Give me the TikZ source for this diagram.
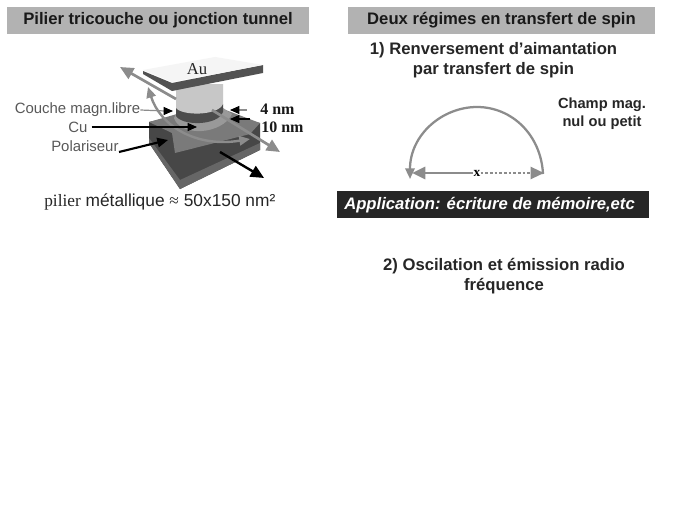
\documentclass[tikz,border=0pt]{standalone}
\usepackage{fontspec}
\setmainfont{Liberation Sans}
\newfontfamily\serifx{Liberation Serif}
\usetikzlibrary{arrows.meta}
\definecolor{bar}{gray}{0.70}
\definecolor{txtg}{gray}{0.35}
\definecolor{arrg}{gray}{0.55}
\tikzset{
 px/.style={x=0.75pt,y=-0.75pt},
 titlebar/.style={fill=bar,draw=none,minimum height=20pt,inner sep=0pt,font=\bfseries\fontsize{12.5}{14}\selectfont,text=black!90},
 head/.style={font=\bfseries\fontsize{12.5}{14.8}\selectfont,align=center,text=black!85,inner sep=0pt},
 lab/.style={font=\fontsize{11.2}{13}\selectfont,text=txtg,inner sep=0pt},
 dim/.style={font=\serifx\bfseries\fontsize{12}{13}\selectfont,text=black!90,inner sep=0pt},
 tipb/.style={-{Triangle[length=7pt,width=6pt]},black,line width=0.8pt},
 tipf/.style={-{Triangle[length=8pt,width=7pt]},black,line width=1.6pt},
 tipg/.style={-{Triangle[length=10pt,width=9pt]},arrg,line width=2pt},
 tipgs/.style={{Triangle[length=8pt,width=7pt]}-{Triangle[length=8pt,width=7pt]},arrg,line width=1.8pt},
}
\begin{document}
\begin{tikzpicture}[px]
\useasboundingbox (0,0) rectangle (680,517);
\fill[white] (0,0) rectangle (680,517);
% title bars
\node[titlebar,minimum width=226.5pt] (t1) at (158,20.5) {Pilier tricouche ou jonction tunnel};
\node[titlebar,minimum width=230pt] (t2) at (501.5,20.5) {Deux régimes en transfert de spin};
% base block
\fill[black!72] (149,122) -- (149,143) -- (180,189) -- (260,150) -- (260,123) -- (200,110) -- cycle;
\fill[black!60] (149,138) -- (180,180) -- (260,143) -- (260,150) -- (180,189) -- (149,143) -- cycle;
\fill[black!52] (149,122) -- (172,133) -- (175,153) -- (250,134) -- (260,123) -- (223,109) -- (177,114) -- cycle;
\fill[black!40] (174,118) .. controls (180,137) and (222,135) .. (232,114) -- (223,108) -- (177,112) -- cycle;
% pillar
\fill[black!70] (176,106) -- (176,116) .. controls (182,126) and (218,126) .. (223,112) -- (223,104) -- cycle;
\fill[black!22] (176,84) -- (176,108) .. controls (182,116) and (218,116) .. (223,104) -- (223,84) -- cycle;
% Au plate
\fill[black!68] (143,71) -- (172,83) -- (263,65) -- (263,73) -- (172,91) -- (143,74) -- cycle;
\fill[black!4] (143,70) -- (215,57) -- (263,65) -- (172,82) -- cycle;
\node[font=\serifx\fontsize{12.5}{13}\selectfont,text=black!85,inner sep=0pt] (au) at (197,69) {Au};
% grey arrows over the stack
\coordinate (g1a) at (176,99);
\coordinate (g1b) at (120,67);
\draw[tipg] (g1a) -- (g1b);
\coordinate (g2a) at (212,110);
\coordinate (g2b) at (280,152);
\draw[tipg] (g2a) -- (g2b);
\coordinate (c1a) at (250,139);
\coordinate (c1b) at (148,87);
\draw[tipgs] (c1b) .. controls (160,125) and (195,148) .. (c1a);
% labels
\node[lab,anchor=west] (cm) at (14.5,110) {Couche magn.libre};
\node[lab,anchor=west] (cu) at (68,127) {Cu};
\node[lab,anchor=west] (po) at (51,146) {Polariseur};
\node[dim,anchor=west] (d4) at (260,109.5) {4 nm};
\node[dim,anchor=west] (d10) at (261,127) {10 nm};
\coordinate (cmt) at (173,111);
\coordinate (cmm) at (165,111);
\draw[draw=arrg,line width=0.9pt] (cm.east) -- (cmm);
\draw[tipb] (cmm) -- (cmt);
\coordinate (cut) at (197,127);
\draw[tipb] (cu.east) ++(4,0) -- (cut);
\coordinate (pot) at (168,140);
\draw[tipf] (119,152) -- (pot);
\coordinate (d4t) at (230,110);
\draw[draw=arrg,line width=0.9pt] (247,110) -- (236,110);
\draw[tipb] (237,110) -- (d4t);
\coordinate (d10t) at (230,119);
\draw[tipb] (250,119) -- (d10t);
\coordinate (bk1) at (220,152);
\coordinate (bk2) at (264,178);
\draw[-{Triangle[length=10pt,width=9pt]},black,line width=1.8pt] (bk1) -- (bk2);
% caption
\node[inner sep=0pt,anchor=base west,font=\fontsize{13}{15}\selectfont,text=black!85] (cap) at (44,206) {{\serifx pilier} métallique {\serifx ≈} 50x150 nm²};
% right column
\node[head] (h1) at (493.5,60.5) {1) Renversement d’aimantation\\par transfert de spin};
\node[font=\bfseries\fontsize{11}{13.5}\selectfont,align=center,text=black!85,inner sep=0pt] (ch) at (602,114) {Champ mag.\\nul ou petit};
\coordinate (al) at (410,179);
\coordinate (ar) at (543,174);
\coordinate (hl) at (412,173);
\coordinate (hr) at (544,173);
\node[inner sep=0pt,font=\serifx\bfseries\fontsize{10}{10}\selectfont,text=black] (xx) at (477,173) {x};
\draw[arrg,line width=1.7pt,-{Triangle[length=8pt,width=7pt]}] (ar) .. controls (541,135) and (512,107) .. (477,107) .. controls (442,107) and (410,135) .. (al);
\draw[-{Triangle[length=10pt,width=9pt]},arrg,line width=2.2pt] (xx.west) -- (hl);
\draw[-{Triangle[length=10pt,width=9pt]},arrg,line width=1.6pt,dash pattern=on 2pt off 1.5pt] (xx.east) -- (hr);
\node[fill=black!85,minimum width=234pt,minimum height=20pt,inner sep=0pt] (app) at (493,204.5) {};
\node[text=white,inner sep=0pt,anchor=west,font=\bfseries\itshape\fontsize{12.5}{14}\selectfont] (appt) at (344,205) {Application: écriture de mémoire,etc};
\node[head,font=\bfseries\fontsize{12.5}{15}\selectfont] (h2) at (504,276) {2) Oscilation et émission radio\\fréquence};
\end{tikzpicture}
\end{document}
